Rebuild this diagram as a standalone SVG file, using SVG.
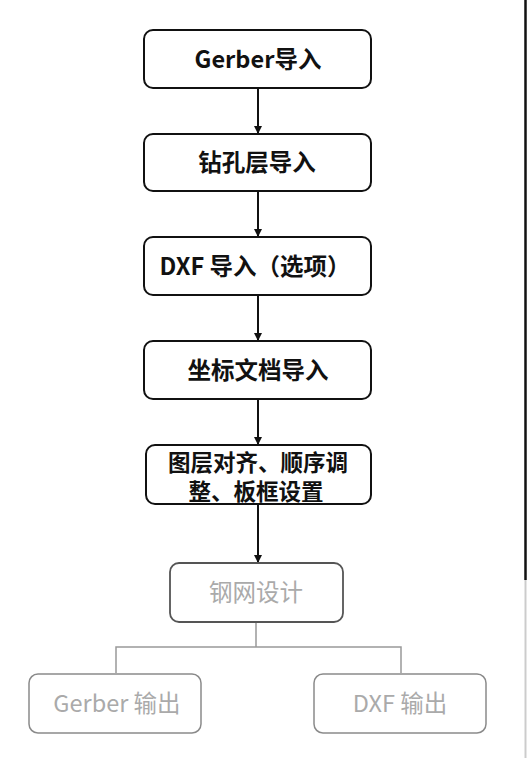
<svg xmlns="http://www.w3.org/2000/svg" width="528" height="758" viewBox="0 0 528 758">
<style>
.box{fill:#fff;stroke:#111;stroke-width:2}
.fbox{fill:#fff;stroke:#8a8a8a;stroke-width:1.5}
.t{font-family:"Noto Sans CJK SC","Noto Sans",sans-serif;font-size:23.5px;font-weight:bold;fill:#111;text-anchor:middle}
.t2{font-size:22.5px}
.ft{font-family:"Noto Sans CJK SC","Noto Sans",sans-serif;font-size:23.5px;fill:#aaa;text-anchor:middle}
.c{stroke:#111;stroke-width:2;fill:none}
.fc{stroke:#999;stroke-width:1.5;fill:none}
</style>
<defs>
<marker id="ah" markerWidth="8" markerHeight="8" refX="7" refY="4" orient="auto" markerUnits="userSpaceOnUse">
<path d="M0,0 L8,4 L0,8 Z" fill="#111"/>
</marker>
</defs>
<rect width="528" height="758" fill="#fff"/>
<line x1="525.5" y1="0" x2="525.5" y2="580" stroke="#111" stroke-width="2.5"/>
<line x1="525.5" y1="580" x2="525.5" y2="758" stroke="#ccc" stroke-width="2"/>
<g id="connectors">
<line class="c" x1="258" y1="89" x2="258" y2="133" marker-end="url(#ah)"/>
<line class="c" x1="258" y1="192" x2="258" y2="236" marker-end="url(#ah)"/>
<line class="c" x1="258" y1="296" x2="258" y2="340" marker-end="url(#ah)"/>
<line class="c" x1="258" y1="400" x2="258" y2="444" marker-end="url(#ah)"/>
<line class="c" x1="258" y1="505" x2="258" y2="562" marker-end="url(#ah)"/>
<path class="fc" d="M256,622 V647 M116,673 V647 H401 V673"/>
</g>
<g id="n1"><rect class="box" x="144" y="30" width="227" height="58" rx="9"/><text class="t" x="258" y="68">Gerber导入</text></g>
<g id="n2"><rect class="box" x="144" y="134" width="227" height="57" rx="9"/><text class="t" x="257" y="171">钻孔层导入</text></g>
<g id="n3"><rect class="box" x="144" y="237" width="227" height="58" rx="9"/><text class="t" x="255" y="275">DXF 导入（选项）</text></g>
<g id="n4"><rect class="box" x="144" y="341" width="227" height="58" rx="9"/><text class="t" x="258" y="379">坐标文档导入</text></g>
<g id="n5"><rect class="box" x="146" y="445" width="225" height="59" rx="9"/><text class="t t2" x="258" y="471">图层对齐、顺序调</text><text class="t t2" x="256" y="500">整、板框设置</text></g>
<g id="n6"><rect class="box" x="170" y="563" width="173" height="59" rx="9" style="stroke:#555;stroke-width:1.8"/><text class="ft" x="256" y="601">钢网设计</text></g>
<g id="n7"><rect class="fbox" x="29" y="674" width="172" height="59" rx="9"/><text class="ft" x="117" y="712">Gerber 输出</text></g>
<g id="n8"><rect class="fbox" x="314" y="674" width="172" height="59" rx="9"/><text class="ft" x="400" y="712">DXF 输出</text></g>
</svg>
